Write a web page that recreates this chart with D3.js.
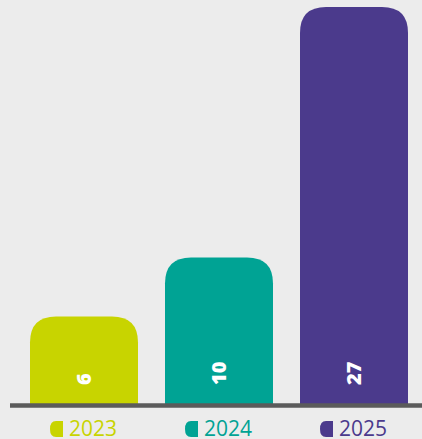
<!DOCTYPE html>
<html>
<head>
<meta charset="utf-8">
<script src="https://cdn.jsdelivr.net/npm/d3@7"></script>
<style>
  html, body { margin: 0; padding: 0; background: #ececec; }
  svg { display: block; }
</style>
</head>
<body>
<div id="chart"></div>
<script>
// chart data
const years = ["2023", "2024", "2025"];
const counts = [6, 10, 27];
const colors = ["#c8d400", "#00a394", "#4b3a8c"];

const width = 422, height = 439;
const baseY = 405;   // where bars meet the axis line
const radius = 26;   // top corner rounding

const svg = d3.select("#chart")
    .append("svg")
    .attr("width", width)
    .attr("height", height);

svg.append("rect")
    .attr("width", width)
    .attr("height", height)
    .attr("fill", "#ececec");

const x = d3.scaleBand()
    .domain(years)
    .range([30, 408])
    .paddingInner(0.2)
    .paddingOuter(0);

const y = d3.scaleLinear()
    .domain([0, 27])
    .range([baseY, 7]);

// bar shape with rounded top corners only
function barPath(x0, y0, w, h) {
  const r = Math.min(radius, w / 2, h);
  return "M" + x0 + "," + (y0 + h) +
    "V" + (y0 + r) +
    "Q" + x0 + "," + y0 + " " + (x0 + r) + "," + y0 +
    "H" + (x0 + w - r) +
    "Q" + (x0 + w) + "," + y0 + " " + (x0 + w) + "," + (y0 + r) +
    "V" + (y0 + h) + "Z";
}

const data = years.map((yr, i) => ({ year: yr, count: counts[i], color: colors[i] }));

svg.selectAll("path.bar")
    .data(data)
    .enter()
    .append("path")
    .attr("class", "bar")
    .attr("d", (d) => barPath(x(d.year), y(d.count), x.bandwidth(), baseY + 2 - y(d.count)))
    .attr("fill", (d) => d.color);

// axis line
svg.append("line")
    .attr("x1", 10)
    .attr("x2", width)
    .attr("y1", 405.5)
    .attr("y2", 405.5)
    .attr("stroke", "#5b5b5b")
    .attr("stroke-width", 4.5);

// values, rotated inside the bars
svg.selectAll("text.value")
    .data(data)
    .enter()
    .append("text")
    .attr("class", "value")
    .attr("transform", (d) => "translate(" + (x(d.year) + x.bandwidth() / 2 + 7) + ",385) rotate(-90)")
    .attr("text-anchor", "start")
    .attr("fill", "#ffffff")
    .style("font-family", "'Open Sans', sans-serif")
    .style("font-weight", "800")
    .style("font-size", "20px")
    .text((d) => d.count);

// year labels with small half-round markers
const legend = svg.selectAll("g.year")
    .data(data)
    .enter()
    .append("g")
    .attr("class", "year")
    .attr("transform", (d) => "translate(" + (x(d.year) + x.bandwidth() / 2) + ",0)");

legend.append("path")
    .attr("d", "M-21,421 H-28 Q-34,421 -34,429 Q-34,437 -28,437 H-21 Z")
    .attr("fill", (d) => d.color);

legend.append("text")
    .attr("x", -15)
    .attr("y", 436)
    .attr("fill", (d) => d.color)
    .style("font-family", "'Open Sans', sans-serif")
    .style("font-size", "21px")
    .text((d) => d.year);
</script>
</body>
</html>
